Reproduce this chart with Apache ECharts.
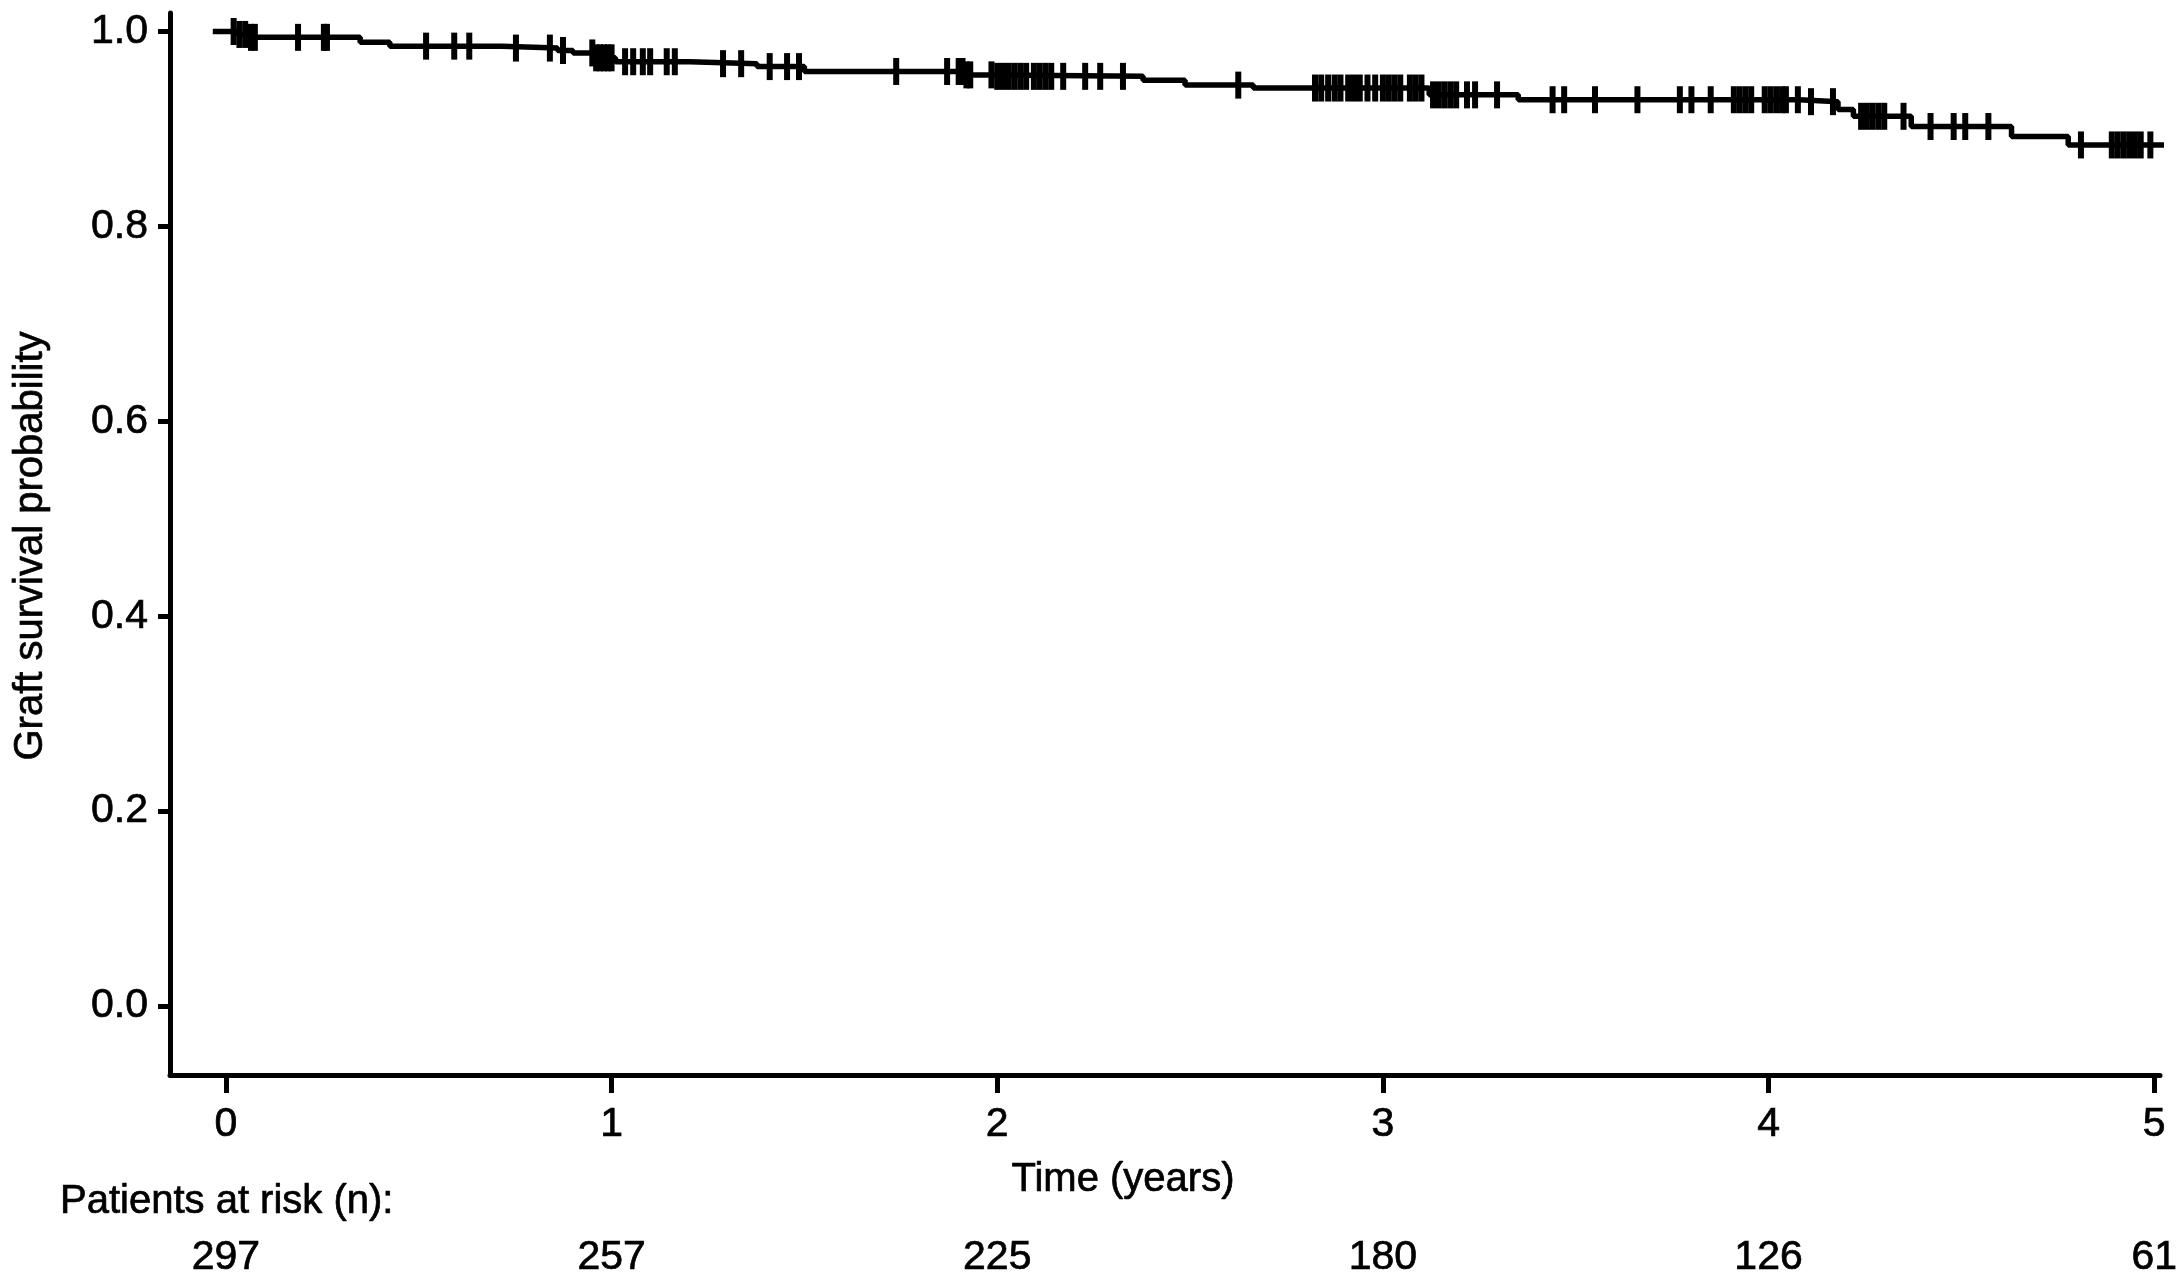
<!DOCTYPE html>
<html>
<head>
<meta charset="utf-8">
<script src="https://cdn.jsdelivr.net/npm/echarts@6/dist/echarts.min.js"></script>
<style>
  html, body { margin: 0; padding: 0; background: #fff; }
  #km { width: 2184px; height: 1288px; }
</style>
</head>
<body>
<div id="km"></div>
<script>
// Kaplan-Meier steps: time (years) and survival after the drop
var stepTimes = [-0.034, 0.03, 0.06, 0.348, 0.425, 0.715, 0.86, 0.90, 0.96, 1.01, 1.203, 1.377, 1.50,
  1.92, 1.99, 2.378, 2.487, 2.664, 3.12, 3.351, 4.08, 4.18, 4.22, 4.37, 4.63, 4.777, 5.036];
var stepSurv = [1.0, 0.997, 0.994, 0.989, 0.985, 0.983, 0.9805, 0.978, 0.973, 0.969, 0.967, 0.964, 0.959,
  0.9555, 0.954, 0.950, 0.945, 0.942, 0.935, 0.930, 0.928, 0.920, 0.913, 0.9025, 0.8923, 0.8836, 0.8836];

// censored observations (time, years)
var censorTimes = [0.02, 0.035, 0.05, 0.065, 0.075, 0.187, 0.254, 0.262,
  0.519, 0.592, 0.631, 0.752, 0.840, 0.874,
  0.95, 0.96, 0.97, 0.98, 0.99, 1.0, 1.035, 1.056, 1.081, 1.10, 1.143, 1.164,
  1.289, 1.336, 1.41, 1.455, 1.486, 1.738, 1.87, 1.90, 1.91, 1.92, 1.93,
  1.985, 2.0, 2.015, 2.03, 2.045, 2.06, 2.075, 2.095, 2.11, 2.125, 2.14,
  2.171, 2.228, 2.267, 2.326, 2.625,
  2.824, 2.84, 2.858, 2.875, 2.89, 2.91, 2.925, 2.94, 2.96, 2.98, 3.0, 3.015, 3.03, 3.045,
  3.07, 3.085, 3.1, 3.13, 3.145, 3.16, 3.175, 3.19, 3.218, 3.239, 3.296,
  3.44, 3.47, 3.55, 3.66, 3.77, 3.80, 3.85, 3.91, 3.925, 3.94, 3.955,
  3.99, 4.005, 4.02, 4.035, 4.045, 4.076, 4.11, 4.167,
  4.24, 4.255, 4.27, 4.285, 4.30, 4.35, 4.42, 4.48, 4.51, 4.57,
  4.81, 4.89, 4.905, 4.92, 4.935, 4.95, 4.965, 4.99];

var xTicks = [0, 1, 2, 3, 4, 5];
var yTicks = [0, 0.2, 0.4, 0.6, 0.8, 1.0];
var atRisk = [297, 257, 225, 180, 126, 61];

function survAt(t) {
  var s = stepSurv[0];
  for (var i = 0; i < stepTimes.length; i++) {
    if (stepTimes[i] <= t) s = stepSurv[i];
  }
  return s;
}

var curve = stepTimes.map(function (t, i) { return [t, stepSurv[i]]; });
var censored = censorTimes.map(function (t) { return [t, survAt(t)]; });

var font = 'Liberation Sans, Arial, sans-serif';
var black = '#000';
var tickText = { color: black, fontSize: 41, fontFamily: font, textBorderColor: black, textBorderWidth: 0.7 };
var titleText = { fill: black, fontSize: 40, fontFamily: font, stroke: black, lineWidth: 0.7 };

var option = {
  animation: false,
  backgroundColor: '#fff',
  grid: { left: 170, right: 24, top: 13, bottom: 213 },
  xAxis: [
    {
      type: 'value',
      min: -0.145,
      max: 5.015,
      axisLine: { onZero: false, lineStyle: { color: black, width: 5 } },
      axisTick: { customValues: xTicks, length: 18, lineStyle: { color: black, width: 5 } },
      axisLabel: Object.assign({ customValues: xTicks, margin: 29 }, tickText),
      splitLine: { show: false }
    },
    {
      type: 'value',
      position: 'bottom',
      offset: 133,
      min: -0.145,
      max: 5.015,
      axisLine: { show: false },
      axisTick: { show: false },
      axisLabel: Object.assign({
        customValues: xTicks, margin: 29,
        formatter: function (v) { return atRisk[xTicks.indexOf(Math.round(v))]; }
      }, tickText),
      splitLine: { show: false }
    }
  ],
  yAxis: {
    type: 'value',
    min: -0.0708,
    max: 1.019,
    axisLine: { show: true, onZero: false, lineStyle: { color: black, width: 5 } },
    axisTick: { show: true, customValues: yTicks, length: 12, lineStyle: { color: black, width: 5 } },
    axisLabel: Object.assign({
      customValues: yTicks, margin: 22,
      formatter: function (v) { return v.toFixed(1); }
    }, tickText),
    splitLine: { show: false }
  },
  graphic: [
    {
      type: 'text',
      x: 1123, y: 1180,
      style: Object.assign({ text: 'Time (years)', textAlign: 'center', textVerticalAlign: 'middle' }, titleText)
    },
    {
      type: 'text',
      x: 60, y: 1202,
      style: Object.assign({ text: 'Patients at risk (n):', textAlign: 'left', textVerticalAlign: 'middle' }, titleText)
    },
    {
      type: 'text',
      x: 31, y: 546,
      rotation: Math.PI / 2,
      style: Object.assign({ text: 'Graft survival probability', textAlign: 'center', textVerticalAlign: 'middle' }, titleText)
    }
  ],
  series: [
    {
      type: 'line',
      step: 'end',
      data: curve,
      showSymbol: false,
      clip: false,
      lineStyle: { color: black, width: 5.5 }
    },
    {
      type: 'scatter',
      data: censored,
      symbol: 'rect',
      symbolSize: [6, 27],
      clip: false,
      itemStyle: { color: black, opacity: 1 }
    }
  ]
};

var chart = echarts.init(document.getElementById('km'));
chart.setOption(option);
</script>
</body>
</html>
